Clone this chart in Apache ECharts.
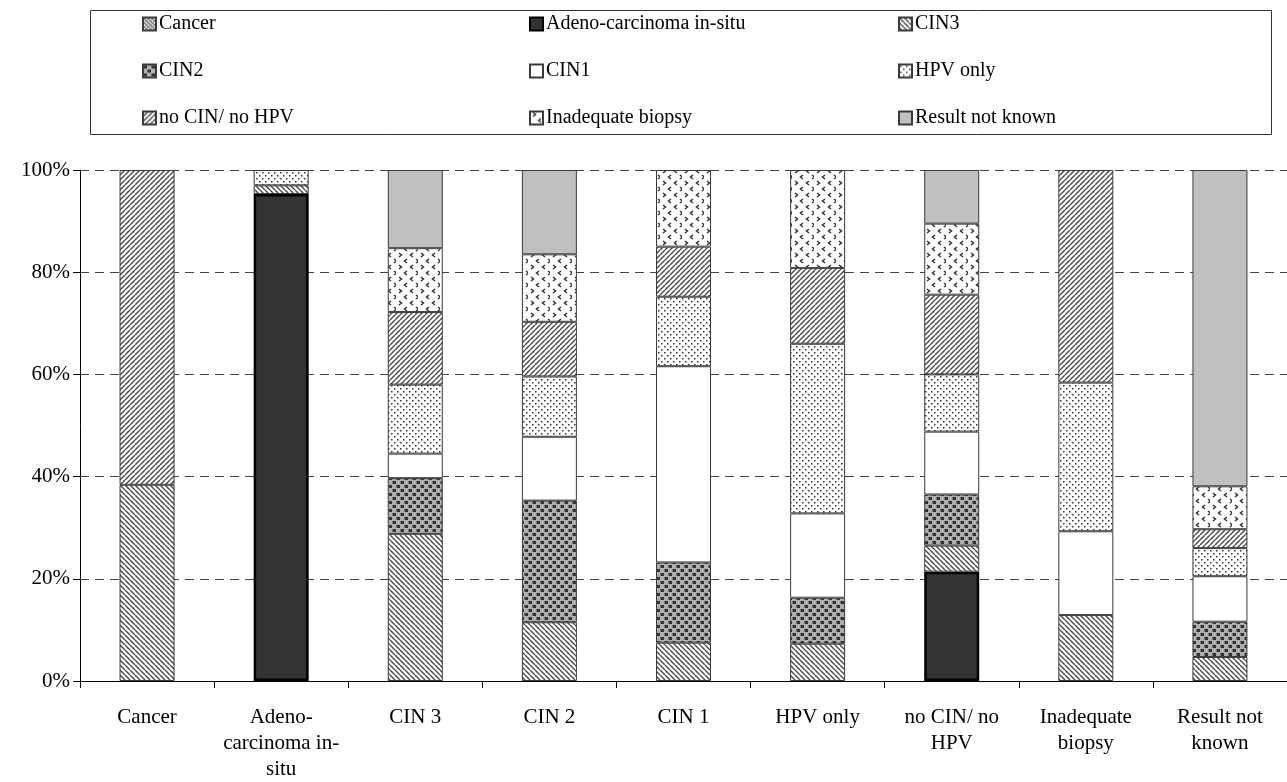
<!DOCTYPE html>
<html>
<head>
<meta charset="utf-8">
<style>
  html, body { margin: 0; padding: 0; background: #fff; }
  #chart { width: 1287px; height: 782px; }
</style>
<script src="https://cdn.jsdelivr.net/npm/echarts@6/dist/echarts.min.js"></script>
</head>
<body>
<div id="chart"></div>
<script>
// Outcome categories along the x axis
const categories = [
  'Cancer', 'Adeno-\ncarcinoma in-\nsitu', 'CIN 3', 'CIN 2', 'CIN 1',
  'HPV only', 'no CIN/ no\nHPV', 'Inadequate\nbiopsy', 'Result not\nknown'
];

// Percentage of each histology result within a category (stack order bottom to top)
const cancer       = [0,    0,    0,    0,    0,    0,    0,    0,    0];
const adenoInSitu  = [0,    95.3, 0,    0,    0,    0,    21.4, 0,    0];
const cin3         = [38.4, 1.7,  28.8, 11.5, 7.5,  7.3,  5.1,  12.9, 4.7];
const cin2         = [0,    0,    10.9, 23.8, 15.7, 9.0,  10.0, 0,    6.9];
const cin1         = [0,    0,    4.8,  12.5, 38.4, 16.5, 12.3, 16.4, 8.9];
const hpvOnly      = [0,    3.0,  13.5, 11.8, 13.6, 33.2, 11.2, 29.1, 5.5];
const noCinNoHpv   = [61.6, 0,    14.2, 10.7, 9.8,  14.8, 15.6, 41.6, 3.7];
const inadequate   = [0,    0,    12.5, 13.2, 15.0, 19.2, 13.9, 0,    8.4];
const notKnown     = [0,    0,    15.3, 16.5, 0,    0,    10.5, 0,    61.9];

const yTicks = [0, 20, 40, 60, 80, 100];

// ---- fill patterns drawn on small tiles ----
function tile(w, h, draw) {
  const c = document.createElement('canvas');
  c.width = w; c.height = h;
  const ctx = c.getContext('2d');
  draw(ctx, w, h);
  return { image: c, repeat: 'repeat' };
}
function diag(forward) {
  return tile(5, 5, (ctx, w, h) => {
    ctx.fillStyle = '#fff'; ctx.fillRect(0, 0, w, h);
    ctx.strokeStyle = '#4a4a4a'; ctx.lineWidth = 1.4;
    for (let k = -1; k <= 1; k++) {
      ctx.beginPath();
      if (forward) { ctx.moveTo(k * w, h); ctx.lineTo(k * w + w, 0); }
      else { ctx.moveTo(k * w, 0); ctx.lineTo(k * w + w, h); }
      ctx.stroke();
    }
  });
}
const patCancer = tile(4, 4, (ctx) => {
  ctx.fillStyle = '#d8d8d8'; ctx.fillRect(0, 0, 4, 4);
  ctx.fillStyle = '#444';
  ctx.fillRect(0, 0, 1, 1); ctx.fillRect(2, 2, 1, 1);
  ctx.fillRect(1, 1, 1, 1); ctx.fillRect(3, 3, 1, 1);
  ctx.fillStyle = '#888'; ctx.fillRect(2, 0, 1, 1); ctx.fillRect(0, 2, 1, 1);
});
const patCin3 = diag(false);
const patNoCin = diag(true);
const patCin2 = tile(8, 8, (ctx) => {
  ctx.fillStyle = '#b0b0b0'; ctx.fillRect(0, 0, 8, 8);
  ctx.fillStyle = '#333';
  ctx.fillRect(0.5, 1, 3.5, 3); ctx.fillRect(4.5, 5, 3.5, 3);
});
const patHpv = tile(6, 6, (ctx) => {
  ctx.fillStyle = '#fff'; ctx.fillRect(0, 0, 6, 6);
  ctx.fillStyle = '#333';
  ctx.fillRect(1, 1, 1.5, 1.5); ctx.fillRect(4, 4, 1.5, 1.5);
});
const patInadequate = tile(22, 12, (ctx) => {
  ctx.fillStyle = '#fff'; ctx.fillRect(0, 0, 22, 12);
  ctx.strokeStyle = '#333'; ctx.lineWidth = 1.5;
  function chev(x, y, dir) {
    ctx.beginPath();
    ctx.moveTo(x, y - 2); ctx.lineTo(x + 2.5 * dir, y); ctx.lineTo(x, y + 2);
    ctx.stroke();
  }
  chev(3, 3, 1); chev(17, 3, -1);
  chev(11, 9, -1); chev(20, 9, 1);
});

const seriesDefs = [
  { name: 'Cancer', data: cancer, color: patCancer },
  { name: 'Adeno-carcinoma in-situ', data: adenoInSitu, color: '#333333', border: '#000', bw: 2.5 },
  { name: 'CIN3', data: cin3, color: patCin3 },
  { name: 'CIN2', data: cin2, color: patCin2 },
  { name: 'CIN1', data: cin1, color: '#ffffff' },
  { name: 'HPV only', data: hpvOnly, color: patHpv },
  { name: 'no CIN/ no HPV', data: noCinNoHpv, color: patNoCin },
  { name: 'Inadequate biopsy', data: inadequate, color: patInadequate },
  { name: 'Result not known', data: notKnown, color: '#c0c0c0' }
];

const font = 'Liberation Serif';

const series = seriesDefs.map(d => ({
  name: d.name,
  type: 'bar',
  stack: 'total',
  barWidth: 55,
  data: d.data.map(v => (v === 0 ? '-' : v)),
  itemStyle: {
    color: d.color,
    borderColor: d.border || '#3a3a3a',
    borderWidth: d.bw || 1
  },
  emphasis: { disabled: true },
  animation: false
}));

function columnLegend(names, left) {
  return {
    orient: 'vertical',
    left: left,
    top: 9,
    itemGap: 27,
    itemWidth: 13,
    itemHeight: 13,
    icon: 'rect',
    selectedMode: false,
    data: names,
    textStyle: { fontFamily: font, fontSize: 20, color: '#000', padding: [0, 0, 0, -2] }
  };
}

const chart = echarts.init(document.getElementById('chart'), null, { renderer: 'canvas' });
chart.setOption({
  backgroundColor: '#fff',
  animation: false,
  graphic: [{
    type: 'rect',
    shape: { x: 90.5, y: 10.5, width: 1181, height: 124 },
    style: { fill: 'none', stroke: '#333', lineWidth: 1 },
    z: 10
  }],
  legend: [
    columnLegend(['Cancer', 'CIN2', 'no CIN/ no HPV'], 137),
    columnLegend(['Adeno-carcinoma in-situ', 'CIN1', 'Inadequate biopsy'], 524),
    columnLegend(['CIN3', 'HPV only', 'Result not known'], 893)
  ],
  grid: { left: 80, top: 170, width: 1215, height: 512, containLabel: false },
  xAxis: {
    type: 'category',
    data: categories,
    axisLine: { lineStyle: { color: '#000', width: 1 } },
    axisTick: { show: true, length: 7, lineStyle: { color: '#000' } },
    axisLabel: {
      interval: 0,
      margin: 23,
      fontFamily: font,
      fontSize: 21,
      lineHeight: 26,
      color: '#000'
    }
  },
  yAxis: {
    type: 'value',
    min: yTicks[0],
    max: yTicks[yTicks.length - 1],
    interval: 20,
    axisLine: { show: true, lineStyle: { color: '#000', width: 1 } },
    axisTick: { show: true, length: 7, lineStyle: { color: '#000' } },
    axisLabel: {
      margin: 10,
      fontFamily: font,
      fontSize: 21,
      color: '#000',
      formatter: '{value}%'
    },
    splitLine: { show: true, lineStyle: { color: '#444', width: 1, type: [9, 6] } }
  },
  series: series
});
</script>
</body>
</html>
